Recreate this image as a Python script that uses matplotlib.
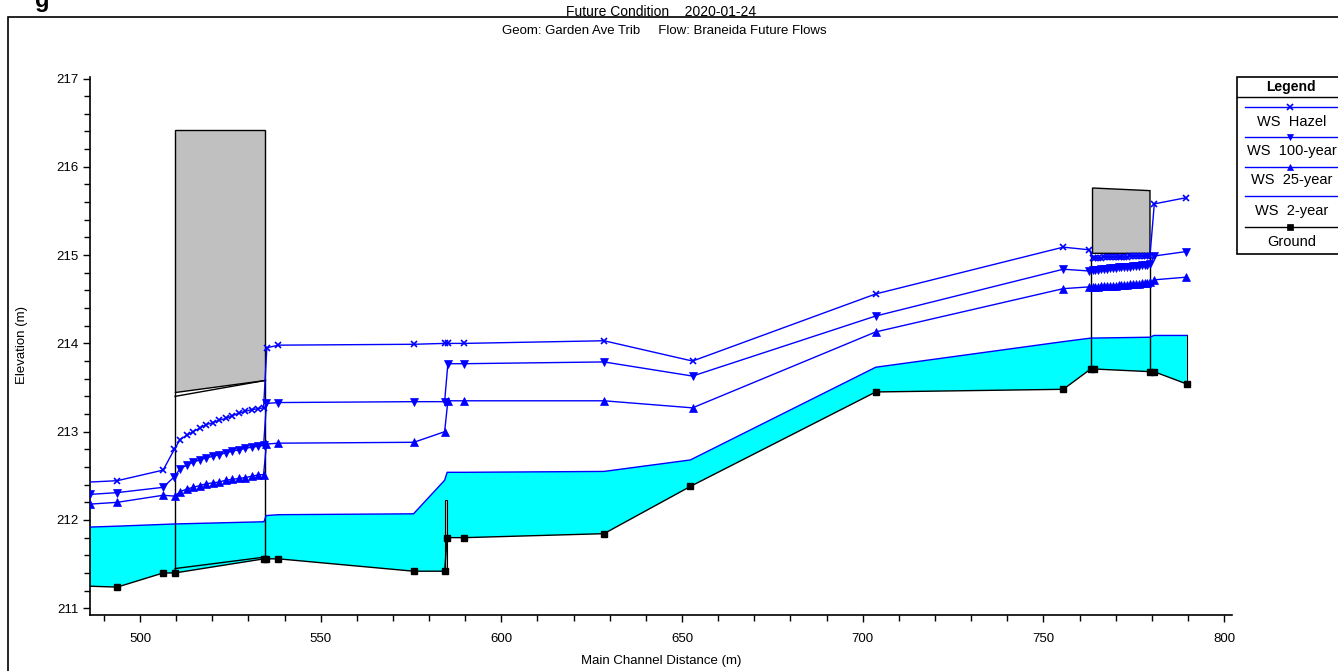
import matplotlib
matplotlib.use('Agg')
import matplotlib.pyplot as plt
from matplotlib.patches import Polygon, Rectangle
from matplotlib.lines import Line2D
from matplotlib.ticker import MultipleLocator

plt.rcParams['font.family'] = ['Liberation Sans', 'DejaVu Sans']

BLUE = '#0000ff'
CYAN = '#00ffff'
GREY = '#c0c0c0'

# ground profile (main channel invert)
ground_x = [486.2, 493.7, 506.4, 509.6, 534.3, 534.9, 538.3, 575.7, 584.3, 585.0,
            589.8, 628.4, 652.3, 703.6, 755.5, 763.1, 764.0, 779.5, 780.6, 789.7]
ground_y = [211.25, 211.24, 211.40, 211.40, 211.56, 211.56, 211.56, 211.42, 211.42, 211.80,
            211.80, 211.845, 212.38, 213.45, 213.48, 213.71, 213.71, 213.68, 213.68, 213.54]

# WS 2-year (no markers, filled down to ground)
ws2_x = [486.2, 493.7, 506.4, 509.6, 534.3, 534.9, 538.3, 575.7, 584.3, 585.0,
         589.8, 628.4, 652.3, 703.6, 755.5, 763.1, 779.5, 780.6, 789.7]
ws2_y = [211.92, 211.93, 211.95, 211.955, 211.98, 212.05, 212.06, 212.07, 212.45, 212.54,
         212.54, 212.55, 212.68, 213.73, 214.02, 214.06, 214.07, 214.09, 214.09]

# culvert sections
culv_x = [511.1, 512.9, 514.7, 516.5, 518.3, 520.1, 521.9, 523.7, 525.5, 527.3,
          529.1, 530.9, 532.7, 534.2]
# bridge sections
brg_x = [763.6, 764.4, 765.2, 766.0, 766.8, 767.6, 768.4, 769.2, 770.0, 770.8,
         771.6, 772.4, 773.2, 774.0, 774.8, 775.6, 776.4, 777.2, 778.0, 778.8]

# WS Hazel
hz_x = ([486.2, 493.7, 506.4, 509.5] + culv_x +
        [535.1, 538.3, 575.8, 584.4, 585.2, 589.8, 628.4, 652.9, 703.6, 755.5, 762.7] +
        brg_x + [779.5, 780.7, 789.5])
hz_y = ([212.43, 212.445, 212.565, 212.80] +
        [212.91, 212.96, 213.00, 213.04, 213.08, 213.10, 213.13, 213.15, 213.18, 213.21,
         213.23, 213.25, 213.26, 213.27] +
        [213.95, 213.98, 213.99, 214.00, 214.00, 214.00, 214.03, 213.80, 214.56, 215.09, 215.06] +
        [214.97, 214.97, 214.97, 214.97, 214.98, 214.98, 214.98, 214.98, 214.98, 214.98,
         214.98, 214.98, 214.98, 214.99, 214.99, 214.99, 214.99, 214.99, 214.99, 214.99] +
        [214.99, 215.58, 215.65])

# WS 100-year
q100_x = ([486.2, 493.7, 506.4, 509.5] + culv_x +
          [535.0, 538.3, 575.8, 584.3, 585.2, 589.8, 628.4, 652.9, 703.6, 755.5, 762.7] +
          brg_x + [779.5, 780.7, 789.5])
q100_y = ([212.29, 212.31, 212.37, 212.49] +
          [212.58, 212.62, 212.655, 212.68, 212.705, 212.72, 212.74, 212.76, 212.78, 212.795,
           212.81, 212.825, 212.835, 212.845] +
          [213.32, 213.33, 213.34, 213.34, 213.77, 213.77, 213.79, 213.63, 214.31, 214.84, 214.82] +
          [214.83, 214.83, 214.835, 214.84, 214.84, 214.845, 214.85, 214.85, 214.855, 214.86,
           214.86, 214.865, 214.87, 214.87, 214.875, 214.88, 214.88, 214.885, 214.89, 214.89] +
          [214.90, 214.99, 215.04])

# WS 25-year
q25_x = ([486.2, 493.7, 506.4, 509.7] + culv_x +
         [535.0, 538.3, 575.8, 584.3, 585.2, 589.8, 628.4, 652.9, 703.6, 755.5, 762.7] +
         brg_x + [779.5, 780.7, 789.5])
q25_y = ([212.18, 212.20, 212.28, 212.27] +
         [212.32, 212.35, 212.37, 212.39, 212.41, 212.42, 212.43, 212.45, 212.46, 212.47,
          212.48, 212.495, 212.51, 212.515] +
         [212.86, 212.87, 212.88, 213.00, 213.35, 213.35, 213.35, 213.27, 214.13, 214.62, 214.64] +
         [214.635, 214.64, 214.64, 214.645, 214.645, 214.65, 214.65, 214.655, 214.655, 214.66,
          214.66, 214.665, 214.665, 214.67, 214.67, 214.675, 214.675, 214.68, 214.68, 214.685] +
         [214.69, 214.72, 214.75])

# structures
culvert_face_x = [509.7, 534.6]
culvert_deck_low = [213.45, 213.59]
culvert_deck_top = 216.42
culvert_soffit = [213.40, 213.58]
culvert_invert = [211.45, 211.58]

bridge_face_x = [763.2, 779.5]
bridge_deck_left = 763.6
bridge_low_chord = 215.02
bridge_deck_top = [215.76, 215.73]
bridge_ground = [213.71, 213.68]

weir_x = [584.4, 585.0]
weir_y = [211.42, 212.23]

legend_labels = ['WS  Hazel', 'WS  100-year', 'WS  25-year', 'WS  2-year', 'Ground']

W, H = 1338, 671
fig = plt.figure(figsize=(W / 100, H / 100), dpi=100)


def fx(px):
    return px / W


def fy(py):
    return 1 - py / H


ax = fig.add_axes([fx(90), fy(615), fx(1232) - fx(90), fy(77) - fy(615)])
ax.set_xlim(486.16, 802.2)
ax.set_ylim(210.924, 217.017)

# water fill between WS 2-year and ground
poly = list(zip(ws2_x, ws2_y)) + list(zip(ground_x[::-1], ground_y[::-1]))
ax.add_patch(Polygon(poly, closed=True, facecolor=CYAN, edgecolor='none', zorder=1))
ax.plot([ws2_x[-1], ws2_x[-1]], [ground_y[-1], ws2_y[-1]], color='k', lw=0.8, zorder=2)

# culvert
cl, cr = culvert_face_x
ax.add_patch(Polygon([(cl, culvert_deck_low[0]), (cl, culvert_deck_top), (cr, culvert_deck_top),
                      (cr, culvert_deck_low[1])], closed=True, facecolor=GREY,
                     edgecolor='k', lw=1.0, zorder=3))
ax.plot(culvert_face_x, culvert_soffit, color='k', lw=1.0, zorder=3)
ax.plot(culvert_face_x, culvert_invert, color='k', lw=1.0, zorder=3)
ax.plot([cl, cl], [culvert_invert[0], culvert_deck_low[0]], color='k', lw=1.0, zorder=3)
ax.plot([cr, cr], [culvert_invert[1], culvert_deck_low[1]], color='k', lw=1.0, zorder=3)

# bridge
bl, br = bridge_face_x
ax.add_patch(Polygon([(bridge_deck_left, bridge_low_chord), (bridge_deck_left, bridge_deck_top[0]),
                      (br, bridge_deck_top[1]), (br, bridge_low_chord)], closed=True,
                     facecolor=GREY, edgecolor='k', lw=1.0, zorder=3))
ax.plot([bl, bl], [bridge_ground[0], bridge_low_chord], color='k', lw=1.0, zorder=3)
ax.plot([br, br], [bridge_ground[1], bridge_low_chord], color='k', lw=1.0, zorder=3)

# small inline structure
ax.add_patch(Rectangle((weir_x[0], weir_y[0]), weir_x[1] - weir_x[0], weir_y[1] - weir_y[0],
                       facecolor=GREY, edgecolor='k', lw=0.8, zorder=3))

# profiles
ax.plot(ws2_x, ws2_y, color=BLUE, lw=1.0, zorder=4)
ax.plot(q25_x, q25_y, color=BLUE, lw=1.0, marker='^', ms=5.5, markeredgewidth=0.5, zorder=5)
ax.plot(q100_x, q100_y, color=BLUE, lw=1.0, marker='v', ms=5.5, markeredgewidth=0.5, zorder=5)
ax.plot(hz_x, hz_y, color=BLUE, lw=1.0, marker='x', ms=5, markeredgewidth=1.2,
        markevery=list(range(1, len(hz_x))), zorder=5)
ax.plot(ground_x, ground_y, color='k', lw=1.0, marker='s', ms=5,
        markevery=list(range(1, len(ground_x))), zorder=6)

for s in ['top', 'right']:
    ax.spines[s].set_visible(False)
for s in ['left', 'bottom']:
    ax.spines[s].set_linewidth(1.2)
ax.xaxis.set_major_locator(MultipleLocator(50))
ax.xaxis.set_minor_locator(MultipleLocator(10))
ax.yaxis.set_major_locator(MultipleLocator(1))
ax.yaxis.set_minor_locator(MultipleLocator(0.2))
ax.tick_params(which='major', direction='out', length=5, width=1.0, labelsize=9.5, pad=3)
ax.tick_params(which='minor', direction='out', length=4, width=1.0)
ax.tick_params(axis='x', which='major', pad=8)

fig.text(fx(661), fy(661), 'Main Channel Distance (m)', ha='center', va='center', fontsize=9.5)
fig.text(fx(22), fy(345), 'Elevation (m)', ha='center', va='center', rotation=90, fontsize=9.5)
fig.text(fx(661), fy(12), 'Future Condition    2020-01-24', ha='center', va='center', fontsize=10)
fig.text(fx(664), fy(31), 'Geom: Garden Ave Trib     Flow: Braneida Future Flows',
         ha='center', va='center', fontsize=9.5)
# clipped fragment of a heading above the frame
fig.text(fx(35), fy(7), 'g', fontsize=17, fontweight='bold', va='baseline')

# outer frame
fig.add_artist(Rectangle((fx(8), -0.01), 1.05, fy(17) + 0.01, transform=fig.transFigure,
                         fill=False, edgecolor='k', lw=1.2))

# legend box drawn by hand
lx0, ly0, ly1 = 1237, 77, 254
fig.add_artist(Rectangle((fx(lx0), fy(ly1)), 1.0, fy(ly0) - fy(ly1), transform=fig.transFigure,
                         facecolor='white', edgecolor='k', lw=1.2, zorder=10))
fig.add_artist(Line2D([fx(lx0), 1.0], [fy(97), fy(97)], transform=fig.transFigure,
                      color='k', lw=1.0, zorder=11))
fig.text(fx(1291), fy(87), 'Legend', ha='center', va='center', fontsize=10,
         fontweight='bold', zorder=12)
line_rows = [107, 137, 167, 196, 227]
text_rows = [122, 151, 180, 211, 242]
styles = [(BLUE, 'x'), (BLUE, 'v'), (BLUE, '^'), (BLUE, None), ('k', 's')]
for label, lr, tr, (col, mk) in zip(legend_labels, line_rows, text_rows, styles):
    fig.add_artist(Line2D([fx(1245), 1.0], [fy(lr), fy(lr)], transform=fig.transFigure,
                          color=col, lw=1.0, zorder=11))
    if mk:
        fig.add_artist(Line2D([fx(1290)], [fy(lr)], transform=fig.transFigure, color=col,
                              marker=mk, ms=5, markeredgewidth=1.2 if mk == 'x' else 0.5,
                              zorder=12))
    fig.text(fx(1292), fy(tr), label, ha='center', va='center', fontsize=10.5, zorder=12)

fig.savefig('out.png', dpi=100)
